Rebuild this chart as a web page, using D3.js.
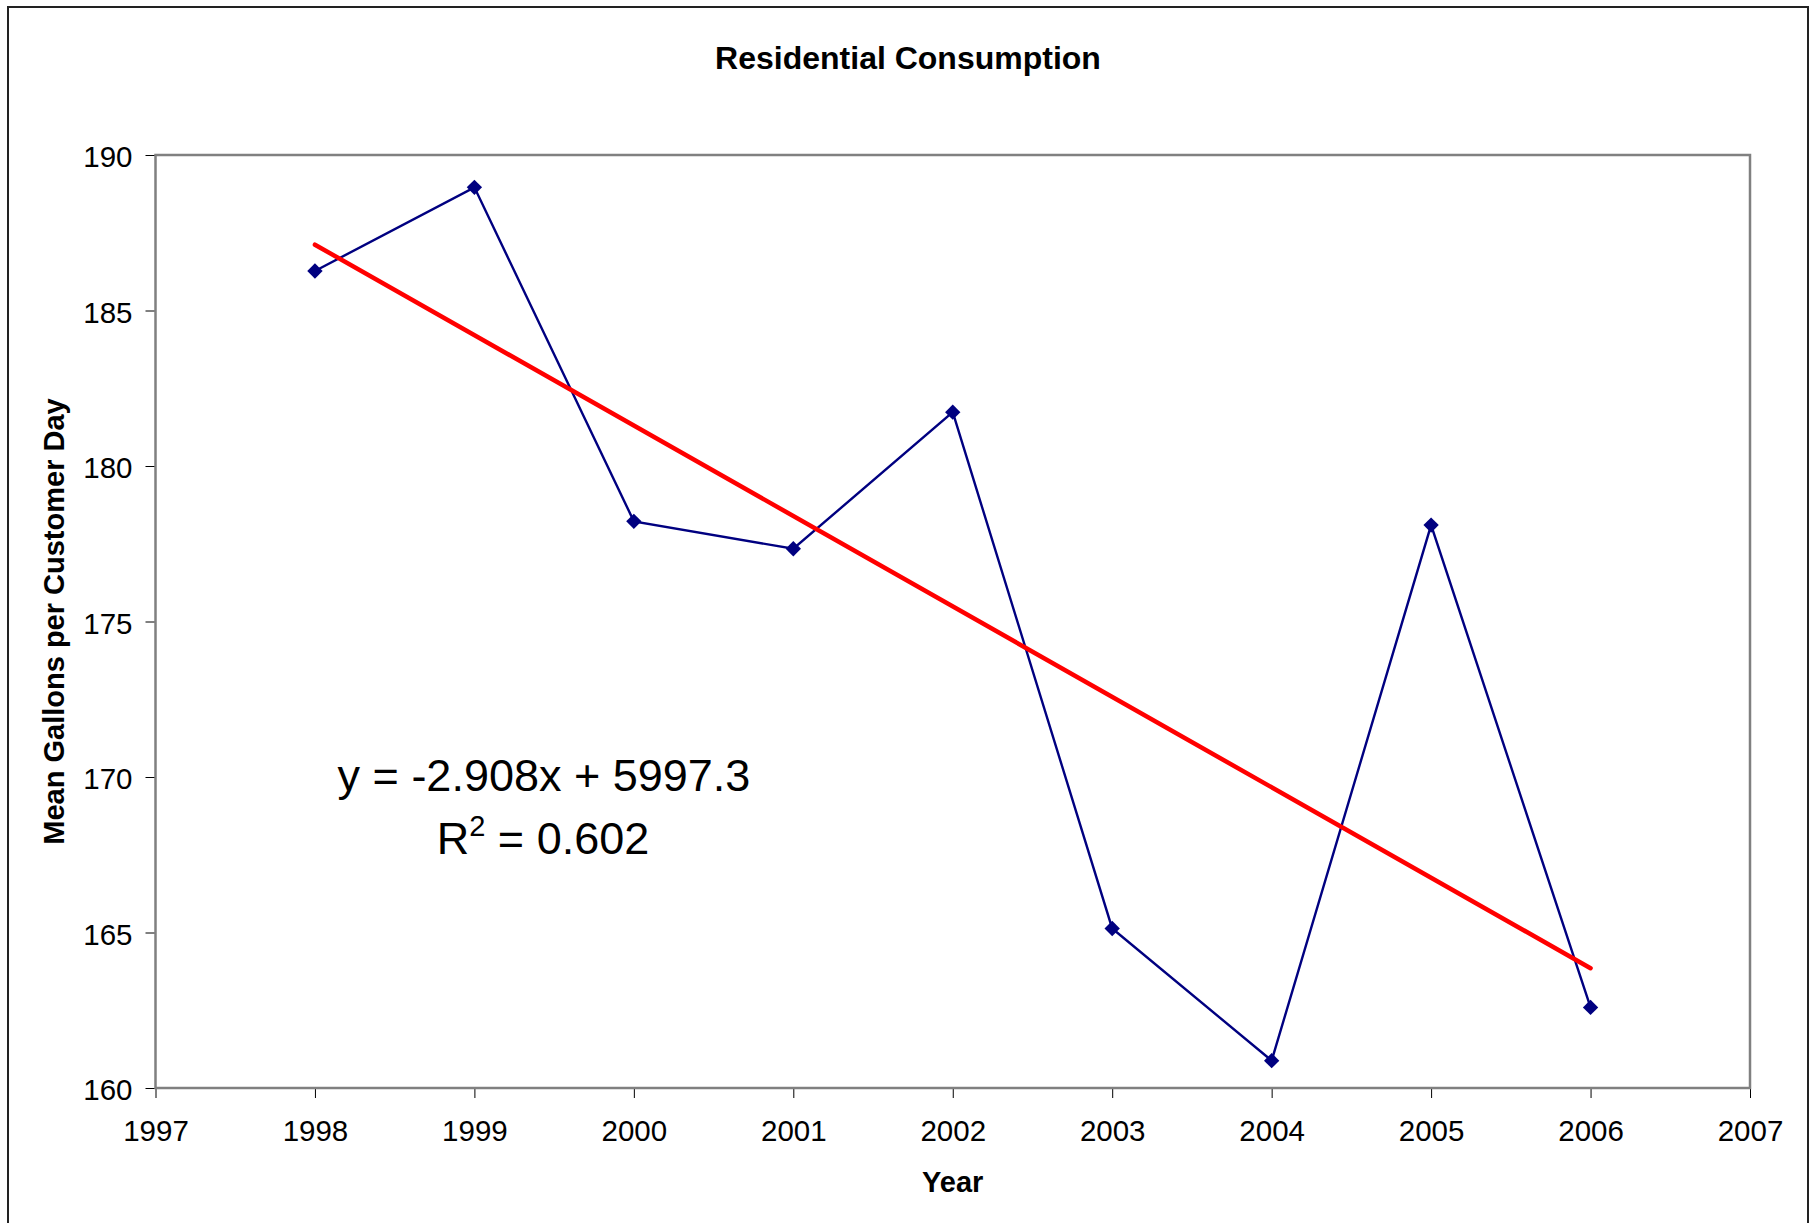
<!DOCTYPE html>
<html>
<head>
<meta charset="utf-8">
<script src="https://cdn.jsdelivr.net/npm/d3@7"></script>
<style>
  html, body { margin: 0; padding: 0; background: #fff; }
  svg { display: block; font-family: "Liberation Sans", Arial, sans-serif; }
</style>
</head>
<body>
<svg width="1815" height="1223"></svg>
<script>
// ---- Dados
const years = [1998, 1999, 2000, 2001, 2002, 2003, 2004, 2005, 2006];
const gallons = [186.27, 188.96, 178.22, 177.34, 181.73, 165.13, 160.88, 178.1, 162.59];
const xTicks = [1997, 1998, 1999, 2000, 2001, 2002, 2003, 2004, 2005, 2006, 2007];
const yTicks = [160, 165, 170, 175, 180, 185, 190];
const trendSlope = -2.908;
const trendIntercept = 5997.3;
const rSquared = 0.602;

const svg = d3.select('svg');
const width = +svg.attr('width');
const height = +svg.attr('height');

const margens = { left: 155.5, right: 65, top: 155, bottom: 135 };
const innerWidth = width - margens.left - margens.right;
const innerHeight = height - margens.top - margens.bottom;

// borda externa
svg.append('rect')
    .attr('x', 8).attr('y', 7)
    .attr('width', 1800).attr('height', 1230)
    .attr('fill', 'none')
    .attr('stroke', '#222')
    .attr('stroke-width', 2);

// ---- Escalas
const mapX = d3.scaleLinear().domain([1997, 2007]).range([0, innerWidth]);
const mapY = d3.scaleLinear().domain([160, 190]).range([innerHeight, 0]);

const g = svg.append('g')
    .attr('transform', `translate(${margens.left}, ${margens.top})`);

// ---- Eixos
const eixoX = d3.axisBottom(mapX)
    .tickValues(xTicks)
    .tickFormat(d3.format('d'))
    .tickSize(10)
    .tickPadding(22);

g.append('g')
    .attr('transform', `translate(0, ${innerHeight})`)
    .call(eixoX)
    .call(s => s.select('.domain').remove())
    .call(s => s.selectAll('text').style('font-size', '29.5px').attr('fill', '#000'))
    .call(s => s.selectAll('line').attr('stroke', '#000'));

const eixoY = d3.axisLeft(mapY)
    .tickValues(yTicks)
    .tickSize(10)
    .tickPadding(13);

g.append('g')
    .call(eixoY)
    .call(s => s.select('.domain').remove())
    .call(s => s.selectAll('text').style('font-size', '29.5px').attr('fill', '#000').attr('dy', '0.4em'))
    .call(s => s.selectAll('line').attr('stroke', '#000'));

// area do grafico
g.append('rect')
    .attr('x', 0).attr('y', 0)
    .attr('width', innerWidth).attr('height', innerHeight)
    .attr('fill', 'none')
    .attr('stroke', '#808080')
    .attr('stroke-width', 2.5);

// ---- Titulos
svg.append('text')
    .attr('x', 908).attr('y', 69)
    .attr('text-anchor', 'middle')
    .style('font-size', '32px').style('font-weight', 'bold')
    .text('Residential Consumption');

g.append('text')
    .attr('x', innerWidth / 2)
    .attr('y', innerHeight + 104)
    .attr('text-anchor', 'middle')
    .style('font-size', '29px').style('font-weight', 'bold')
    .text('Year');

g.append('text')
    .attr('transform', 'rotate(-90)')
    .attr('x', -innerHeight / 2)
    .attr('y', -92)
    .attr('text-anchor', 'middle')
    .style('font-size', '29px').style('font-weight', 'bold')
    .text('Mean Gallons per Customer Day');

// ---- Serie
const data = years.map((y, i) => ({ year: y, value: gallons[i] }));

const linha = d3.line()
    .x(d => mapX(d.year))
    .y(d => mapY(d.value));

g.append('path')
    .datum(data)
    .attr('d', linha)
    .attr('fill', 'none')
    .attr('stroke', '#000080')
    .attr('stroke-width', 2.4);

// ---- Linha de tendencia
const x0 = d3.min(years), x1 = d3.max(years);
const trend = [x0, x1].map(x => ({ year: x, value: trendSlope * x + trendIntercept }));

g.append('path')
    .datum(trend)
    .attr('d', linha)
    .attr('fill', 'none')
    .attr('stroke', '#ff0000')
    .attr('stroke-width', 4.5)
    .attr('stroke-linecap', 'round');

// marcadores
g.selectAll('.marcador')
    .data(data)
    .enter()
    .append('path')
    .attr('class', 'marcador')
    .attr('d', d3.symbol().type(d3.symbolDiamond2).size(150))
    .attr('transform', d => `translate(${mapX(d.year)}, ${mapY(d.value)})`)
    .attr('fill', '#000080');

// equacao
const eq = g.append('text')
    .attr('text-anchor', 'middle')
    .style('font-size', '45px');

eq.append('tspan')
    .attr('x', 544 - margens.left).attr('y', 791 - margens.top)
    .text(`y = ${trendSlope}x + ${trendIntercept}`);

const r2 = eq.append('tspan')
    .attr('x', 543 - margens.left).attr('y', 854 - margens.top);
r2.append('tspan').text('R');
r2.append('tspan').attr('dy', -18).style('font-size', '29px').text('2');
r2.append('tspan').attr('dy', 18).text(` = ${rSquared}`);
</script>
</body>
</html>
